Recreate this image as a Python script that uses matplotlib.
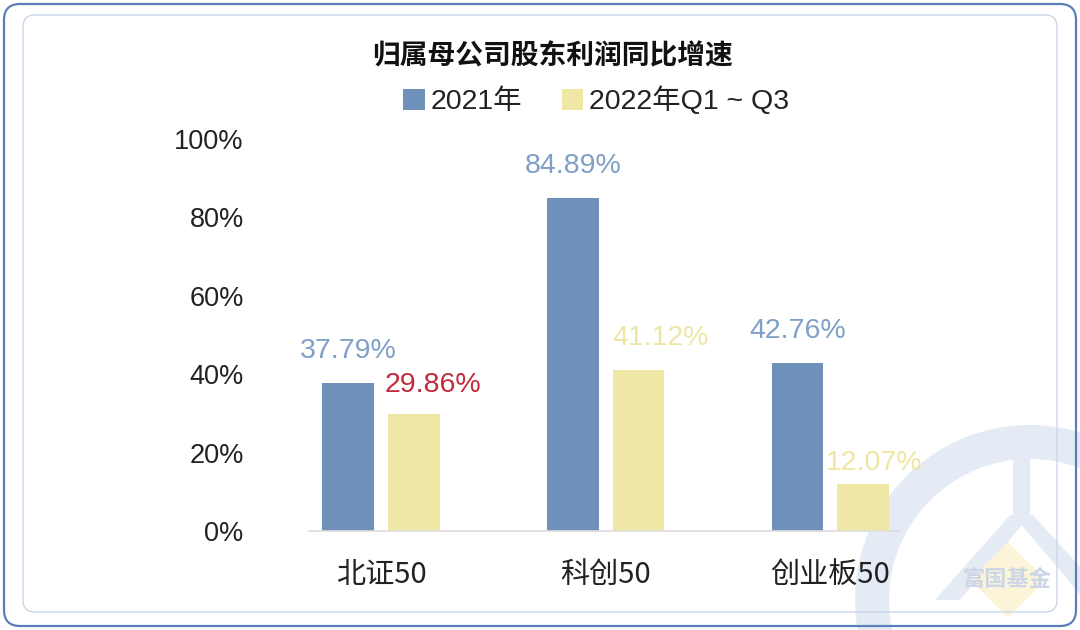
import matplotlib
matplotlib.use("Agg")
import matplotlib.pyplot as plt
import numpy as np
from matplotlib.patches import FancyBboxPatch, Wedge, Polygon, Rectangle

plt.rcParams['font.family'] = ['Liberation Sans', 'Noto Sans CJK SC', 'DejaVu Sans']

# 数据
categorias = ['北证50', '科创50', '创业板50']
valores_2021 = [37.79, 84.89, 42.76]
valores_2022 = [29.86, 41.12, 12.07]
series = ['2021年', '2022年Q1 ~ Q3']
y_ticks = [0, 20, 40, 60, 80, 100]

cor_azul = '#6F90B9'
cor_amarela = '#EFE7A6'
cor_rotulo_azul = '#7F9FC6'
cor_rotulo_amarelo = '#EEE6A2'
cor_vermelha = '#C22A3C'

fig = plt.figure(figsize=(10.8, 6.3), dpi=100)

# camada de fundo (pixels): molduras e marca d'água
bg = fig.add_axes([0, 0, 1, 1], zorder=0)
bg.set_xlim(0, 1080)
bg.set_ylim(630, 0)
bg.axis('off')

ring_col = '#E4EBF5'
bg.add_patch(Wedge((1030, 600), 175, 0, 360, width=34, facecolor=ring_col, edgecolor='none'))
bg.add_patch(Rectangle((1013, 427), 17, 95, facecolor=ring_col, edgecolor='none'))
bg.add_patch(Polygon([(1010, 515), (1030, 515), (960, 600), (935, 600)], closed=True,
                     facecolor=ring_col, edgecolor='none'))
bg.add_patch(Polygon([(1013, 515), (1033, 515), (1110, 600), (1085, 600)], closed=True,
                     facecolor=ring_col, edgecolor='none'))
bg.add_patch(Polygon([(1008, 542), (1046, 580), (1008, 618), (970, 580)], closed=True,
                     facecolor='#FBF4D8', edgecolor='none'))
bg.text(1007, 580, '富国基金', fontsize=16, fontweight='bold', color='#CDD6E6',
        ha='center', va='center', family=['Noto Sans CJK SC'])

bg.add_patch(FancyBboxPatch((4, 4), 1072, 622, boxstyle='round,pad=0,rounding_size=16',
                            facecolor='none', edgecolor='#5D7FB9', linewidth=1.6))
bg.add_patch(FancyBboxPatch((23, 15), 1034, 597, boxstyle='round,pad=0,rounding_size=12',
                            facecolor='none', edgecolor='#C9D6EA', linewidth=1.0))

# gráfico principal
ax = fig.add_axes([309 / 1080, 99 / 630, 591 / 1080, 392 / 630], zorder=1)
ax.patch.set_alpha(0)

x = np.arange(len(categorias))
largura = 0.23
desloc = 0.146
b1 = ax.bar(x - desloc, valores_2021, largura, color=cor_azul, label=series[0])
b2 = ax.bar(x + desloc, valores_2022, largura, color=cor_amarela, label=series[1])

ax.set_xlim(-0.32, 2.31)
ax.set_ylim(0, 100)
ax.set_yticks(y_ticks)
ax.set_yticklabels([f'{v}%' for v in y_ticks])
ax.set_xticks(x)
ax.set_xticklabels(categorias, family=['Noto Sans CJK SC'])
ax.tick_params(axis='y', length=0, pad=47, labelsize=19.5, labelcolor='#222222')
ax.tick_params(axis='x', length=0, pad=21, labelsize=21, labelcolor='#222222')
for s in ['top', 'right', 'left']:
    ax.spines[s].set_visible(False)
ax.spines['bottom'].set_color('#DDDDDD')
ax.spines['bottom'].set_linewidth(1.2)

# rótulos
for xi, v in zip(x, valores_2021):
    ax.annotate(f'{v:.2f}%', (xi - desloc, v), xytext=(0, 23), textcoords='offset points',
                ha='center', va='center', fontsize=20.5, color=cor_rotulo_azul)

dx_amarelo = [14, 16, 8]
dy_amarelo = [21, 23, 15]
cores_amarelo = [cor_vermelha, cor_rotulo_amarelo, cor_rotulo_amarelo]
for xi, v, dx, dy, c in zip(x, valores_2022, dx_amarelo, dy_amarelo, cores_amarelo):
    ax.annotate(f'{v:.2f}%', (xi + desloc, v), xytext=(dx, dy), textcoords='offset points',
                ha='center', va='center', fontsize=20.5, color=c)

fig.text(553 / 1080, 1 - 56 / 630, '归属母公司股东利润同比增速', ha='center', va='center',
         fontsize=20, fontweight='bold', color='#111111', family=['Noto Sans CJK SC'])

leg = fig.legend(handles=[b1, b2], labels=series, loc='center', bbox_to_anchor=(596 / 1080, 1 - 101 / 630),
                 ncol=2, frameon=False, fontsize=20.5, handlelength=0.75, handleheight=0.75,
                 handletextpad=0.2, columnspacing=1.4, labelcolor='#222222')

fig.savefig('out.png', dpi=100)
